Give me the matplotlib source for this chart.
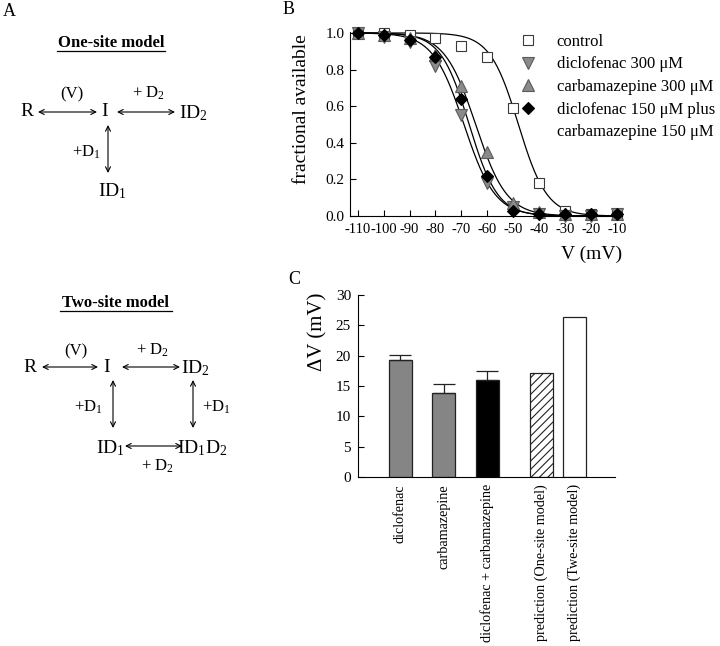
import numpy as np
import matplotlib
matplotlib.use("Agg")
import matplotlib.pyplot as plt

plt.rcParams['font.family'] = ['Liberation Serif', 'DejaVu Serif']
plt.rcParams['mathtext.fontset'] = 'custom'
plt.rcParams['mathtext.rm'] = 'Liberation Serif'
plt.rcParams['mathtext.it'] = 'Liberation Serif:italic'
plt.rcParams['axes.unicode_minus'] = False
plt.rcParams['hatch.linewidth'] = 0.8

# Panel B: fraction of channels available vs prepulse voltage
voltages = [-110, -100, -90, -80, -70, -60, -50, -40, -30, -20, -10]
control = [1.0, 1.0, 0.99, 0.97, 0.93, 0.87, 0.59, 0.18, 0.03, 0.01, 0.01]
diclo_300 = [1.0, 0.98, 0.95, 0.82, 0.55, 0.18, 0.05, 0.01, 0.0, 0.0, 0.01]
carba_300 = [1.0, 0.99, 0.97, 0.88, 0.71, 0.35, 0.07, 0.02, 0.01, 0.01, 0.01]
combo_150 = [1.0, 0.99, 0.96, 0.87, 0.64, 0.22, 0.03, 0.01, 0.01, 0.01, 0.01]

# Boltzmann fits (V1/2, slope factor)
fit_vhalf = [-48.0, -69.0, -64.5, -67.0]
fit_slope = [5.5, 6.0, 6.0, 5.5]

legend_labels = ['control', 'diclofenac 300 μM', 'carbamazepine 300 μM',
                 'diclofenac 150 μM plus', 'carbamazepine 150 μM']

# Panel C: shift of the inactivation curve
bar_names = ['diclofenac', 'carbamazepine', 'diclofenac + carbamazepine',
             'prediction (One-site model)', 'prediction (Twe-site model)']
bar_values = [19.3, 13.9, 16.0, 17.1, 26.3]
bar_errors = [0.8, 1.4, 1.4, 0.0, 0.0]


def boltzmann(v, vh, k):
    return 1.0 / (1.0 + np.exp((v - vh) / k))


fig = plt.figure(figsize=(7.2, 6.46), dpi=100)

# ---- panel A: kinetic schemes, drawn in pixel coordinates
axA = fig.add_axes([0, 0, 1, 1])
axA.set_xlim(0, 720)
axA.set_ylim(646, 0)
axA.axis('off')

def arrow(x1, y1, x2, y2):
    axA.annotate('', xy=(x2, y2), xytext=(x1, y1),
                 arrowprops=dict(arrowstyle='<->', lw=0.8, color='black',
                                 shrinkA=0, shrinkB=0, mutation_scale=9))

def txt(x, y, s, size=13, **kw):
    axA.text(x, y, s, fontsize=size, ha='center', va='center', **kw)

txt(9, 12, 'A', size=13)
txt(289, 9, 'B', size=13)
txt(294, 279, 'C', size=13)

# one-site model
txt(111, 43, 'One-site model', size=12, fontweight='bold')
axA.plot([57, 165], [51, 51], color='black', lw=0.9)
txt(27, 112, 'R', size=14)
arrow(38, 112, 97, 112)
txt(72, 94, '(V)', size=12)
txt(105, 112, 'I', size=14)
arrow(117, 112, 175, 112)
txt(148, 93, '+ D$_2$', size=12)
txt(193, 113, 'ID$_2$', size=14)
arrow(108, 125, 108, 173)
txt(86, 152, '+D$_1$', size=12)
txt(112, 191, 'ID$_1$', size=14)

# two-site model
txt(116, 303, 'Two-site model', size=12, fontweight='bold')
axA.plot([60, 172], [311, 311], color='black', lw=0.9)
txt(30, 367, 'R', size=14)
arrow(42, 367, 98, 367)
txt(76, 351, '(V)', size=12)
txt(107, 367, 'I', size=14)
arrow(122, 367, 180, 367)
txt(152, 350, '+ D$_2$', size=12)
txt(195, 368, 'ID$_2$', size=14)
arrow(113, 380, 113, 428)
txt(88, 407, '+D$_1$', size=12)
arrow(193, 380, 193, 428)
txt(216, 407, '+D$_1$', size=12)
txt(110, 448, 'ID$_1$', size=14)
arrow(125, 446, 182, 446)
txt(202, 448, 'ID$_1$D$_2$', size=14)
txt(157, 466, '+ D$_2$', size=12)

# ---- panel B
axB = fig.add_axes([350 / 720, 1 - 216 / 646, 272 / 720, 184 / 646])
series = [control, diclo_300, carba_300, combo_150]
styles = [dict(marker='s', mfc='white', mec='#3a3a3a', ms=7),
          dict(marker='v', mfc='#8a8a8a', mec='#5a5a5a', ms=8),
          dict(marker='^', mfc='#8a8a8a', mec='#5a5a5a', ms=8),
          dict(marker='D', mfc='black', mec='black', ms=6.5)]
vfine = np.linspace(-110, -10, 300)
handles = []
for ys, st, vh, k in zip(series, styles, fit_vhalf, fit_slope):
    axB.plot(vfine, boltzmann(vfine, vh, k), color='black', lw=0.9)
for ys, st in zip(series, styles):
    h, = axB.plot(voltages, ys, linestyle='none', mew=0.8, clip_on=False, **st)
    handles.append(h)
handles.append(plt.Line2D([], [], linestyle='none'))

axB.set_xlim(-113, -8)
axB.set_ylim(0, 1.005)
axB.set_xticks(voltages)
axB.set_yticks([0, 0.2, 0.4, 0.6, 0.8, 1.0])
axB.set_yticklabels(['0.0', '0.2', '0.4', '0.6', '0.8', '1.0'])
axB.tick_params(direction='in', length=4, width=0.8, labelsize=11, pad=4)
axB.tick_params(axis='x', labelsize=10.5, pad=5)
for s in ['top', 'right']:
    axB.spines[s].set_visible(False)
for s in ['left', 'bottom']:
    axB.spines[s].set_linewidth(0.8)
axB.set_ylabel('fractional available', fontsize=14)
axB.yaxis.set_label_coords(-0.147, 0.58)
axB.set_xlabel('V (mV)', fontsize=14, loc='right', labelpad=7)

fig.legend(handles, legend_labels, loc='upper left',
           bbox_to_anchor=(520 / 720, 1 - 34 / 646), frameon=False,
           fontsize=12, handlelength=1.0, handletextpad=1.2,
           labelspacing=0.39, borderpad=0, borderaxespad=0)

# ---- panel C
axC = fig.add_axes([358 / 720, 1 - 477 / 646, 257 / 720, 182 / 646])
pos = [0, 1, 2, 3.24, 4.0]
faces = ['#858585', '#858585', 'black', 'white', 'white']
hatches = [None, None, None, '////', None]
for x, v, fc, ht in zip(pos, bar_values, faces, hatches):
    axC.bar(x, v, width=0.53, color=fc, edgecolor='#222222', linewidth=0.9,
            hatch=ht)
err_x = [x for x, e in zip(pos, bar_errors) if e > 0]
err_y = [v for v, e in zip(bar_values, bar_errors) if e > 0]
err_e = [e for e in bar_errors if e > 0]
axC.errorbar(err_x, err_y, yerr=[np.zeros(len(err_e)), err_e], fmt='none',
             ecolor='#222222', elinewidth=0.9, capsize=8.2, capthick=0.9)
axC.set_xlim(-0.97, 4.94)
axC.set_ylim(0, 30)
axC.set_yticks(range(0, 31, 5))
axC.set_xticks(pos)
axC.set_xticklabels(bar_names, rotation=90, fontsize=10.2)
axC.tick_params(axis='y', direction='in', length=4, width=0.8, labelsize=11, pad=5)
axC.tick_params(axis='x', length=0, pad=5)
for s in ['top', 'right']:
    axC.spines[s].set_visible(False)
for s in ['left', 'bottom']:
    axC.spines[s].set_linewidth(0.8)
axC.set_ylabel('ΔV (mV)', fontsize=15)
axC.yaxis.set_label_coords(-0.12, 0.80)

fig.savefig('out.png', dpi=100)
